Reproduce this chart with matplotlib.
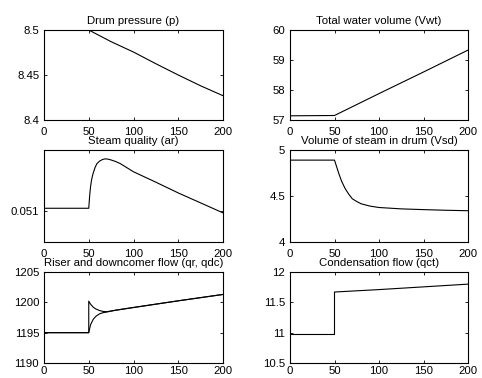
import matplotlib
matplotlib.use("Agg")
import matplotlib.pyplot as plt

plt.rcParams['font.family'] = ['Liberation Sans', 'DejaVu Sans']
plt.rcParams['font.size'] = 8.2

# Drum pressure
t_p = [0, 50, 75, 100, 125, 150, 175, 200]
p = [8.5, 8.5, 8.487, 8.4755, 8.4625, 8.450, 8.438, 8.427]

# Total water volume
t_vwt = [0, 50, 100, 150, 200]
vwt = [57.14, 57.15, 57.88, 58.6, 59.33]

# Steam quality
t_ar = [0, 50, 51, 52, 53, 54, 55, 57, 59, 62, 65, 68, 71, 75, 80, 85, 100, 125, 150, 175, 200]
ar = [0.05102, 0.05102, 0.05110, 0.05116, 0.05120, 0.051228, 0.05125, 0.051285, 0.05131,
      0.051327, 0.051337, 0.051342, 0.051341, 0.051335, 0.051325, 0.051312, 0.051258,
      0.05119, 0.05112, 0.051055, 0.05099]

# Volume of steam in drum
t_vsd = [0, 50, 52, 55, 58, 62, 66, 70, 75, 80, 90, 100, 125, 150, 175, 200]
vsd = [4.89, 4.89, 4.83, 4.74, 4.66, 4.58, 4.52, 4.47, 4.44, 4.415, 4.39, 4.375, 4.36, 4.352, 4.345, 4.34]

# Riser and downcomer flow
t_q = [0, 50, 50, 52, 55, 58, 62, 66, 70, 80, 100, 150, 200]
qr = [1195, 1195, 1200.2, 1199.7, 1199.2, 1198.9, 1198.65, 1198.5, 1198.45, 1198.7, 1199.15, 1200.25, 1201.3]
qdc = [1195, 1195, 1195, 1196.3, 1197.2, 1197.7, 1198.1, 1198.3, 1198.4, 1198.7, 1199.15, 1200.25, 1201.3]

# Condensation flow
t_qct = [0, 50, 50, 100, 150, 200]
qct = [10.97, 10.97, 11.67, 11.71, 11.755, 11.80]

W, H = 482, 378
fig = plt.figure(figsize=(W / 100, H / 100), dpi=100)

def ax_at(left, top, right, bottom):
    return fig.add_axes([left / W, (H - bottom) / H, (right - left) / W, (bottom - top) / H])

specs = [
    ((44, 30, 223, 120), "Drum pressure (p)", [(t_p, p)], (8.4, 8.5), [8.4, 8.45, 8.5], ["8.4", "8.45", "8.5"]),
    ((290, 30, 468, 120), "Total water volume (Vwt)", [(t_vwt, vwt)], (57, 60), [57, 58, 59, 60], ["57", "58", "59", "60"]),
    ((44, 150, 223, 242), "Steam quality (ar)", [(t_ar, ar)], (0.0508, 0.0514), [0.051], ["0.051"]),
    ((290, 150, 468, 242), "Volume of steam in drum (Vsd)", [(t_vsd, vsd)], (4, 5), [4, 4.5, 5], ["4", "4.5", "5"]),
    ((44, 272, 223, 363), "Riser and downcomer flow (qr, qdc)", [(t_q, qr), (t_q, qdc)], (1190, 1205), [1190, 1195, 1200, 1205], ["1190", "1195", "1200", "1205"]),
    ((290, 272, 468, 363), "Condensation flow (qct)", [(t_qct, qct)], (10.5, 12), [10.5, 11, 11.5, 12], ["10.5", "11", "11.5", "12"]),
]

for i, (box, title, series, ylim, yt, ytl) in enumerate(specs):
    ax = ax_at(*box)
    for x, y in series:
        ax.plot(x, y, color='black', lw=0.8, clip_on=True)
    ax.set_xlim(0, 200)
    ax.set_ylim(*ylim)
    ax.set_xticks([0, 50, 100, 150, 200])
    ax.set_xticklabels(["0", "50", "100", "150", "200"])
    ax.set_yticks(yt)
    ax.set_yticklabels(ytl)
    ax.tick_params(direction='in', length=2.5, width=0.6, top=True, right=True, labelsize=8.2)
    ax.tick_params(axis='x', pad=(5 if i < 4 else 2.5))
    ax.tick_params(axis='y', pad=3.5)
    for s in ax.spines.values():
        s.set_linewidth(0.8)
    ax.set_title(title, fontsize=8.2, pad=4.5)

fig.savefig("out.png", dpi=100)
